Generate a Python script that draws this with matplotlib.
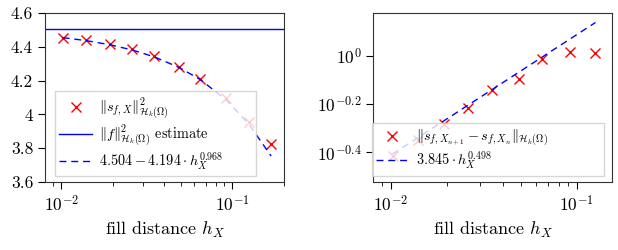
import numpy as np
import matplotlib
matplotlib.use('Agg')
import matplotlib.pyplot as plt
from matplotlib.ticker import FixedLocator, FixedFormatter, FuncFormatter, NullLocator

plt.rcParams['font.family'] = 'serif'
plt.rcParams['font.serif'] = ['cmr10', 'DejaVu Serif']
plt.rcParams['mathtext.fontset'] = 'cm'
plt.rcParams['axes.formatter.use_mathtext'] = True
plt.rcParams['axes.unicode_minus'] = False

# fill distances
h_X = [0.0102, 0.0140, 0.0194, 0.0261, 0.0350, 0.0490, 0.0653, 0.0923, 0.126, 0.169]

# left: squared native-space norm of the interpolant
norm_sq = [4.455, 4.438, 4.417, 4.386, 4.343, 4.283, 4.208, 4.095, 3.957, 3.823]
norm_f_estimate = 4.504
fit_left = (4.504, 4.194, 0.968)

# right: norm of successive differences
h_diff = h_X[:9]
diff_norm = [0.385, 0.448, 0.521, 0.605, 0.721, 0.804, 0.972, 1.033, 1.023]
fit_right = (3.845, 0.498)

fig = plt.figure(figsize=(6.18, 2.5), dpi=100)
ax1 = fig.add_axes([0.0728, 0.272, 0.3867, 0.676])
ax2 = fig.add_axes([0.604, 0.272, 0.3858, 0.676])

LEG_FS = 10.3
TICK_FS = 12.5
DASH = (5, 3.5)
leg_kw = dict(loc='lower left', mode='expand', borderaxespad=0, fontsize=LEG_FS,
              fancybox=False, framealpha=0.8, edgecolor='#cccccc',
              labelspacing=0.12, borderpad=0.3, handlelength=2.3, handletextpad=0.5)

# ---- left panel
h = np.array(h_X)
ax1.plot(h_X, norm_sq, 'x', color='red', markersize=6.5, mew=1.0,
         label=r'$\Vert s_{f,X}\Vert^2_{\mathcal{H}_k(\Omega)}$')
ax1.axhline(norm_f_estimate, color='blue', linewidth=1.0,
            label=r'$\Vert f\Vert^2_{\mathcal{H}_k(\Omega)}$ estimate')
c0, c1, p = fit_left
ax1.plot(h_X, c0 - c1 * h ** p, '--', dashes=DASH, color='blue', linewidth=1.0,
         label=r'$4.504 - 4.194\cdot h_X^{0.968}$')
ax1.set_xscale('log')
ax1.set_xlim(0.00805, 0.201)
ax1.set_ylim(3.6, 4.6)
ax1.set_yticks([3.6, 3.8, 4.0, 4.2, 4.4, 4.6])
ax1.yaxis.set_major_formatter(FuncFormatter(lambda v, _: '{:g}'.format(round(v, 2))))
ax1.set_xlabel(r'fill distance $h_X$', fontsize=13)
ax1.legend(bbox_to_anchor=(0.042, 0.036, 0.841, 0.4), **leg_kw)

# ---- right panel
hd = np.array(h_diff)
ax2.plot(h_diff, diff_norm, 'x', color='red', markersize=6.5, mew=1.0,
         label=r'$\Vert s_{f,X_{n+1}} - s_{f,X_n}\Vert_{\mathcal{H}_k(\Omega)}$')
a, q = fit_right
ax2.plot(h_diff, a * hd ** q, '--', dashes=DASH, color='blue', linewidth=1.0,
         label=r'$3.845\cdot h_X^{0.498}$')
ax2.set_xscale('log')
ax2.set_yscale('log')
ax2.set_xlim(0.00803, 0.154)
ax2.set_ylim(10 ** -0.522, 10 ** 0.176)
ax2.yaxis.set_major_locator(FixedLocator([10 ** -0.4, 10 ** -0.2, 1.0]))
ax2.yaxis.set_major_formatter(FixedFormatter([r'$10^{-0.4}$', r'$10^{-0.2}$', r'$10^{0}$']))
ax2.yaxis.set_minor_locator(NullLocator())
ax2.set_xlabel(r'fill distance $h_X$', fontsize=13)
ax2.legend(bbox_to_anchor=(-0.007, 0.037, 0.973, 0.3), **leg_kw)

for ax in (ax1, ax2):
    ax.tick_params(labelsize=TICK_FS)
    ax.tick_params(which='major', length=5)
    ax.tick_params(which='minor', length=3)
    for s in ax.spines.values():
        s.set_color('#333333')

fig.savefig('out.png', dpi=100)
